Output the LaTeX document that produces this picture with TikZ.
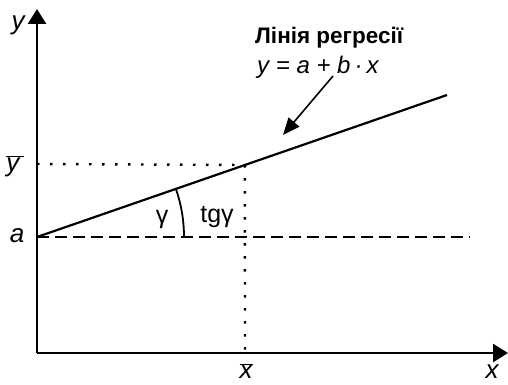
\documentclass[tikz,border=0pt]{standalone}
\usepackage{fontspec}
\setmainfont{Liberation Sans}
\usetikzlibrary{arrows.meta,calc}
\begin{document}
\begin{tikzpicture}[x=1pt,y=-1pt,
  axis/.style={line width=2.6pt,-{Triangle[length=15pt,width=18pt]}},
  lbl/.style={font=\fontsize{26}{28}\selectfont\itshape,inner sep=0pt},
  gr/.style={font=\fontsize{25}{27}\selectfont,inner sep=0pt},
  regline/.style={line width=2.2pt},
  dashline/.style={line width=2pt,dash pattern=on 12pt off 6pt},
  dotline/.style={line width=2.4pt,dash pattern=on 2.5pt off 10.5pt}]
\useasboundingbox (0,0) rectangle (508,385);
\coordinate (O) at (37,353);
\coordinate (ytip) at (37,9);
\coordinate (xtip) at (508,353);
\coordinate (A) at (37,237);
\coordinate (E) at (447,95);
\coordinate (M) at ($(A)!0.507!(E)$);
\coordinate (Ay) at (37,164);
\coordinate (Mx) at (245,353);
\coordinate (Dend) at (470,237);
\coordinate (P) at (283,135);
% axes
\draw[axis] (O) -- (ytip);
\draw[axis] (O) -- (xtip);
% guides
\draw[dashline] (A) -- (Dend);
\draw[dotline] (Ay) -- (M);
\draw[dotline] (M) -- (Mx);
% regression line
\draw[regline] (A) -- (E);
% angle arc
\draw[line width=1.8pt] ($(A)+(147,0)$) arc[start angle=0,end angle=-19.1,radius=147];
% labels
\node[lbl] (ylab) at (18,25) {y};
\node[lbl] (xlab) at (492,372) {x};
\node[lbl] (alab) at (17,236) {a};
\node[lbl] (ybar) at (15,166) {$\overline{\mbox{\itshape y\,}}$};
\node[lbl] (xbar) at (246,371) {$\overline{\mbox{\itshape x}}$};
\node[gr] (gam) at (162,219) {γ};
\node[gr] (tg) at (217,217) {tgγ};
\node[inner sep=0pt,font=\fontsize{22.5}{24}\selectfont\bfseries,anchor=west] (title) at (255,38) {Лінія регресії};
\node[inner sep=0pt,font=\fontsize{24}{26}\selectfont\itshape,anchor=west] (eq) at (257,67) {y\;=\;a\;+\;b\,·\,x};
\coordinate (Q) at (333,76);
\draw[line width=1.6pt,-{Triangle[length=17pt,width=14pt]}] (Q) -- (P);
\end{tikzpicture}
\end{document}
